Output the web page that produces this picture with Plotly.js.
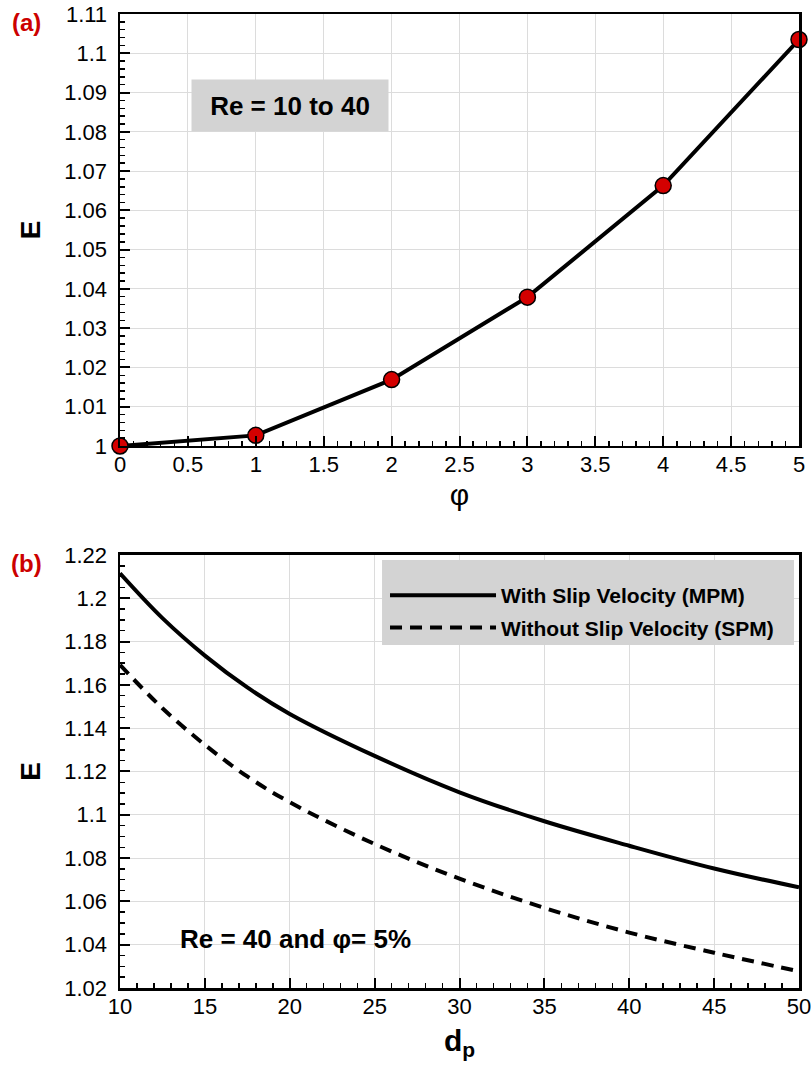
<!DOCTYPE html>
<html>
<head>
<meta charset="utf-8">
<script src="https://cdn.plot.ly/plotly-3.0.1.min.js"></script>
<style>html,body{margin:0;padding:0;background:#fff;}#chart{width:811px;height:1070px;}</style>
</head>
<body>
<div id="chart"></div>
<script>
// Panel (a): E vs phi (Re = 10 to 40)
const phiValues = [0, 1, 2, 3, 4, 5];
const eValuesA = [1.0, 1.0027, 1.0169, 1.0379, 1.0663, 1.1035];

// Panel (b): E vs dp (Re = 40, phi = 5%)
const dpValues = [10, 12.5, 15, 17.5, 20, 25, 30, 35, 40, 45, 50];
const eWithSlip = [1.2115, 1.1908, 1.1735, 1.1588, 1.1466, 1.1272, 1.1104, 1.0970, 1.0857, 1.0752, 1.0665];
const eWithoutSlip = [1.1692, 1.1492, 1.1323, 1.1177, 1.1058, 1.0865, 1.0705, 1.0570, 1.0456, 1.0363, 1.0277];

const seriesNames = ["With Slip Velocity (MPM)", "Without Slip Velocity (SPM)"];

const FONT = "Liberation Sans, Arial, Helvetica, sans-serif";
const GRID = "#dcdcdc";

const traces = [
  {
    x: phiValues, y: eValuesA, xaxis: "x", yaxis: "y",
    mode: "lines+markers", type: "scatter", showlegend: false, cliponaxis: false,
    line: {color: "#000", width: 4},
    marker: {color: "#d40000", size: 16, line: {color: "#000", width: 1.5}}
  },
  {
    x: dpValues, y: eWithSlip, xaxis: "x2", yaxis: "y2",
    mode: "lines", type: "scatter", name: "<b>" + seriesNames[0] + "</b>",
    line: {color: "#000", width: 4, shape: "spline", smoothing: 1}, legendgroup: "a"
  },
  {
    x: dpValues, y: eWithoutSlip, xaxis: "x2", yaxis: "y2",
    mode: "lines", type: "scatter", name: "<b>" + seriesNames[1] + "</b>",
    line: {color: "#000", width: 4, dash: "12px,8px", shape: "spline", smoothing: 1}, legendgroup: "b"
  }
];

function axisBase(extra) {
  return Object.assign({
    showline: true, linecolor: "#000", linewidth: 2.5, mirror: true,
    ticks: "inside", ticklen: 10, tickwidth: 2, tickcolor: "#000",
    showgrid: true, gridcolor: GRID, gridwidth: 1, zeroline: false,
    tickfont: {family: FONT, size: 22, color: "#000"},
    ticklabelstandoff: -3, ticklabeloverflow: "allow",
    automargin: false
  }, extra);
}

const minorStyle = {ticks: "inside", ticklen: 5, tickcolor: "#000", tickwidth: 1.5, showgrid: false};

const layout = {
  width: 811, height: 1070,
  margin: {l: 120, r: 12, t: 14, b: 82},
  paper_bgcolor: "#fff", plot_bgcolor: "#fff",
  font: {family: FONT, color: "#000"},
  showlegend: true,
  legend: {
    x: 0.3903, xanchor: "left", y: 0.4240, yanchor: "top",
    bgcolor: "rgba(0,0,0,0)", borderwidth: 0,
    font: {family: FONT, size: 21, color: "#000"},
    itemwidth: 106, tracegroupgap: 2
  },
  xaxis: axisBase({
    domain: [0, 1], anchor: "y", range: [0, 5], dtick: 0.5,
    minor: Object.assign({dtick: 0.1}, minorStyle),
    title: {text: "φ", font: {family: FONT, size: 30, color: "#000"}, standoff: 8}
  }),
  yaxis: axisBase({
    domain: [0.5565, 1], anchor: "x", range: [1, 1.11], dtick: 0.01,
    ticklabelstandoff: 6,
    minor: Object.assign({dtick: 0.002}, minorStyle),
    title: {text: "<b>E</b>", font: {family: FONT, size: 28, color: "#000"}, standoff: 16}
  }),
  xaxis2: axisBase({
    domain: [0, 1], anchor: "y2", range: [10, 50], dtick: 5,
    minor: Object.assign({dtick: 1}, minorStyle),
    title: {text: "<b>d<sub>p</sub></b>", font: {family: FONT, size: 30, color: "#000"}, standoff: 12}
  }),
  yaxis2: axisBase({
    domain: [0, 0.4446], anchor: "x2", range: [1.02, 1.22], dtick: 0.02,
    ticklabelstandoff: 6,
    minor: Object.assign({dtick: 0.005}, minorStyle),
    title: {text: "<b>E</b>", font: {family: FONT, size: 28, color: "#000"}, standoff: 16}
  }),
  shapes: [
    {type: "rect", xref: "paper", yref: "paper", x0: 0.3859, x1: 0.9926, y0: 0.3522, y1: 0.4394,
     fillcolor: "#d3d3d3", line: {width: 0}, layer: "above"}
  ],
  annotations: [
    {text: "<b>(a)</b>", xref: "paper", yref: "paper", x: -0.1377, y: 0.9913,
     xanchor: "center", yanchor: "middle", showarrow: false,
     font: {family: FONT, size: 24, color: "#cc0000"}},
    {text: "<b>(b)</b>", xref: "paper", yref: "paper", x: -0.1377, y: 0.4363,
     xanchor: "center", yanchor: "middle", showarrow: false,
     font: {family: FONT, size: 24, color: "#cc0000"}},
    {text: "<b>Re = 10 to 40</b>", xref: "x", yref: "y", x: 1.254, y: 1.0866,
     xanchor: "center", yanchor: "middle", showarrow: false,
     bgcolor: "#d3d3d3", width: 188, height: 43, borderpad: 4,
     font: {family: FONT, size: 26, color: "#000"}},
    {text: "<b>Re = 40 and φ= 5%</b>", xref: "x2", yref: "y2", x: 20.31, y: 1.0426,
     xanchor: "center", yanchor: "middle", showarrow: false,
     font: {family: FONT, size: 26, color: "#000"}}
  ]
};

Plotly.newPlot("chart", traces, layout, {staticPlot: true, displayModeBar: false});
</script>
</body>
</html>
